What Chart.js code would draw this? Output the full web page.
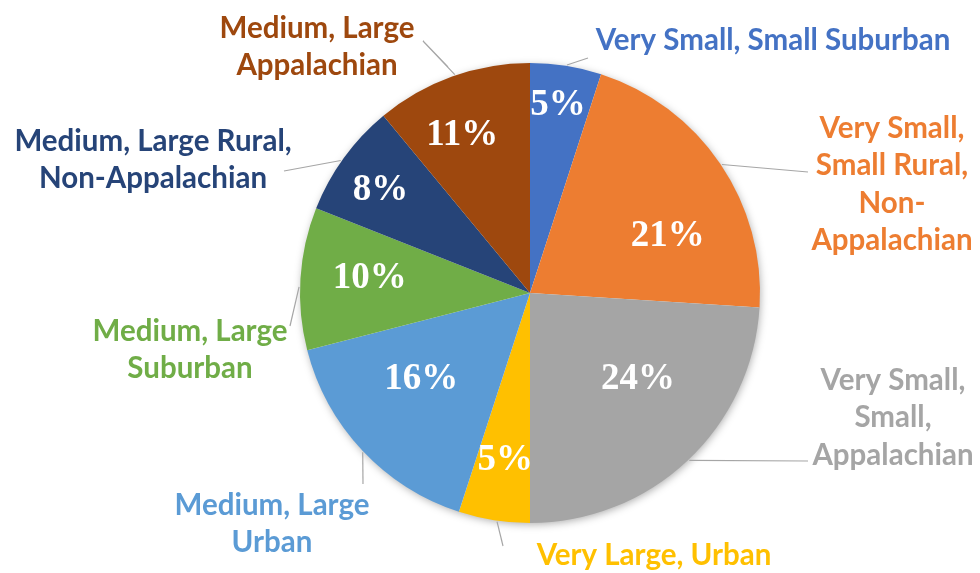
<!DOCTYPE html>
<html><head><meta charset="utf-8">
<script src="https://cdn.jsdelivr.net/npm/chart.js@4/dist/chart.umd.min.js"></script>
<style>html,body{margin:0;padding:0;background:#fff;}#wrap{width:980px;height:573px;position:relative;}</style>
</head><body><div id="wrap"><canvas id="c" width="980" height="573"></canvas></div>
<script>
const categories = [
  "Very Small, Small Suburban",
  "Very Small, Small Rural, Non-Appalachian",
  "Very Small, Small, Appalachian",
  "Very Large, Urban",
  "Medium, Large Urban",
  "Medium, Large Suburban",
  "Medium, Large Rural, Non-Appalachian",
  "Medium, Large Appalachian"
];
const shares = [5, 21, 24, 5, 16, 10, 8, 11];
const colors = ["#4472C4","#ED7D31","#A5A5A5","#FFC000","#5B9BD5","#70AD47","#264478","#9E480E"];
const labelLines = [
  ["Very Small, Small Suburban"],
  ["Very Small,","Small Rural,","Non-","Appalachian"],
  ["Very Small,","Small,","Appalachian"],
  ["Very Large, Urban"],
  ["Medium, Large","Urban"],
  ["Medium, Large","Suburban"],
  ["Medium, Large Rural,","Non-Appalachian"],
  ["Medium, Large","Appalachian"]
];
// text layout (not data): category label centre, leader elbow points, rim angle where leader starts
const catLayout = [
  {x:773, y:40,  rim:9.2,   lead:[[588,58]]},
  {x:892, y:128, rim:56.2,  lead:[[808,172]]},
  {x:893, y:380, rim:136.4, lead:[[808,461]]},
  {x:654, y:555, rim:188.2, lead:[[503,546]]},
  {x:272, y:505, rim:226.4, lead:[[363,484]]},
  {x:190, y:331, rim:271.5, lead:[[290,326]]},
  {x:153, y:141, rim:305,   lead:[[284,171]]},
  {x:317, y:28,  rim:341,   lead:[[423,41],[448,67]]}
];
const pctLayout = [
  {r:0.83, da:-0.6},{r:0.65, da:11.4},{r:0.6, da:-8.3},{r:0.73, da:-0.5},
  {r:0.6, da:5.2},{r:0.7, da:2.1},{r:0.79, da:-1.3},{r:0.75, da:-3.3}
];

const labelPlugin = {
  id:'labels',
  beforeDatasetsDraw(chart){
    const ctx=chart.ctx; ctx.save();
    ctx.shadowColor='rgba(0,0,0,0.35)'; ctx.shadowBlur=8; ctx.shadowOffsetX=1; ctx.shadowOffsetY=2;
    const a=chart.getDatasetMeta(0).data[0];
    ctx.beginPath(); ctx.arc(a.x,a.y,a.outerRadius-1,0,Math.PI*2); ctx.fillStyle='#fff'; ctx.fill();
    ctx.restore();
  },
  afterDatasetsDraw(chart){
    const ctx=chart.ctx;
    const meta=chart.getDatasetMeta(0);
    const total=shares.reduce((s,v)=>s+v,0);
    meta.data.forEach((arc,i)=>{
      const cx=arc.x, cy=arc.y, R=arc.outerRadius;
      const mid=(arc.startAngle+arc.endAngle)/2;
      const pl=pctLayout[i];
      const ang=mid+pl.da*Math.PI/180;
      const px=cx+Math.cos(ang)*R*pl.r, py=cy+Math.sin(ang)*R*pl.r;
      ctx.save();
      ctx.font='bold 37px "Liberation Serif", "Times New Roman", serif';
      ctx.fillStyle='#fff'; ctx.textAlign='center'; ctx.textBaseline='middle';
      ctx.fillText(Math.round(shares[i]/total*100)+'%', px, py+1);
      ctx.restore();
      const L=catLayout[i];
      const ea=(L.rim-90)*Math.PI/180;
      const sx=cx+Math.cos(ea)*(R+1), sy=cy+Math.sin(ea)*(R+1);
      ctx.save();
      ctx.strokeStyle='#A6A6A6'; ctx.lineWidth=1.2;
      ctx.beginPath(); ctx.moveTo(sx,sy);
      L.lead.forEach(p=>ctx.lineTo(p[0],p[1]));
      ctx.stroke(); ctx.restore();
      ctx.save();
      ctx.font='bold 29.5px Lato, "Open Sans", sans-serif';
      ctx.fillStyle=colors[i]; ctx.textAlign='center'; ctx.textBaseline='middle';
      labelLines[i].forEach((t,k)=>ctx.fillText(t, L.x, L.y+k*37.5));
      ctx.restore();
    });
  }
};

new Chart(document.getElementById('c'),{
  type:'pie',
  data:{labels:categories,datasets:[{data:shares,backgroundColor:colors,borderWidth:0,hoverOffset:0}]},
  options:{
    responsive:false,animation:false,
    layout:{padding:{left:300,right:220,top:63,bottom:50}},
    plugins:{legend:{display:false},tooltip:{enabled:false}}
  },
  plugins:[labelPlugin]
});
</script></body></html>
